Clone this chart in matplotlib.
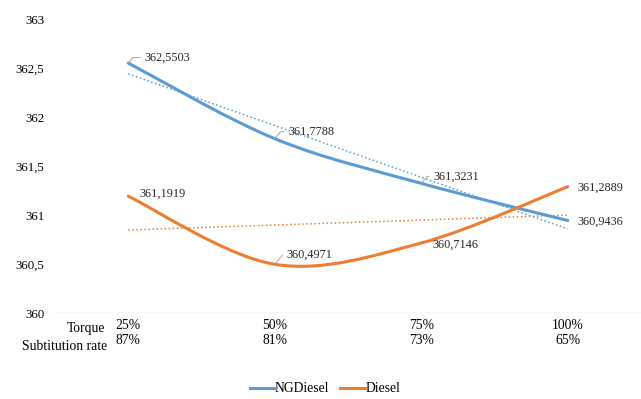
import numpy as np
import matplotlib
matplotlib.use('Agg')
import matplotlib.pyplot as plt
from matplotlib.path import Path
from matplotlib.patches import PathPatch
from matplotlib.lines import Line2D

plt.rcParams['font.family'] = 'serif'
plt.rcParams['font.serif'] = ['Liberation Serif', 'DejaVu Serif']

torque = ['25%', '50%', '75%', '100%']
subst_rate = ['87%', '81%', '73%', '65%']
ngdiesel = [362.5503, 361.7788, 361.3231, 360.9436]
diesel = [361.1919, 360.4971, 360.7146, 361.2889]

blue = '#5B9BD5'
orange = '#ED7D31'
fs = 8.8     # data labels
fs_ax = 9.8  # axis text


def excel_smooth(x, y):
    # bezier path like excel's "smoothed line"
    pts = np.column_stack([x, y])
    p = np.vstack([pts[0], pts, pts[-1]])
    verts = [tuple(pts[0])]
    codes = [Path.MOVETO]
    for i in range(1, len(p) - 2):
        c1 = p[i] + (p[i + 1] - p[i - 1]) / 6
        c2 = p[i + 1] - (p[i + 2] - p[i]) / 6
        verts += [tuple(c1), tuple(c2), tuple(p[i + 1])]
        codes += [Path.CURVE4] * 3
    return Path(verts, codes)


fig = plt.figure(figsize=(6.41, 3.99), dpi=100)
ax = fig.add_axes([55 / 641, 86 / 399, 586 / 641, 294 / 399])
x = np.arange(1, len(torque) + 1)

for vals, col in [(ngdiesel, blue), (diesel, orange)]:
    ax.add_patch(PathPatch(excel_smooth(x, vals), fill=False, edgecolor=col, lw=2.2,
                           capstyle='round', zorder=3))
    k, b = np.polyfit(x, vals, 1)
    ax.plot(x, k * x + b, ls=':', color=col, lw=1.1, zorder=2)

ax.set_xlim(0.5, 4.5)
ax.set_ylim(360, 363)
ax.set_yticks(np.arange(360, 363.01, 0.5))
ax.set_yticklabels([('%g' % v).replace('.', ',') for v in np.arange(360, 363.01, 0.5)], fontsize=9.3)
ax.set_xticks(x)
ax.set_xticklabels([t + '\n' + s for t, s in zip(torque, subst_rate)], fontsize=fs_ax, linespacing=1.2)
ax.tick_params(length=0, pad=7.8, axis='y')
ax.tick_params(length=0, pad=4, axis='x')
for s in ax.spines.values():
    s.set_visible(False)
ax.axhline(360, color='#D9D9D9', lw=1, zorder=1)

ax.annotate('Torque', xy=(1, 360), xytext=(-16.5, -11.5), textcoords='offset points',
            ha='right', va='center', fontsize=fs_ax)
ax.annotate('Subtitution rate', xy=(1, 360), xytext=(-15, -23.8), textcoords='offset points',
            ha='right', va='center', fontsize=fs_ax)

# data labels (offsets in points), True = leader line
offsets_ng = [(12, 4, True), (9.5, 5, True), (8.5, 5, True), (7, -1, False)]
offsets_d = [(8, 1.5, False), (8.5, 7, True), (8, -1, False), (7, -0.5, False)]
for vals, offs in [(ngdiesel, offsets_ng), (diesel, offsets_d)]:
    for xi, v, (dx, dy, lead) in zip(x, vals, offs):
        ap = None
        if lead:
            ap = dict(arrowstyle='-', color='#A6A6A6', lw=0.7, shrinkA=1, shrinkB=0,
                      relpos=(0, 0.5), connectionstyle='angle,angleA=0,angleB=50,rad=0')
        ax.annotate(('%.4f' % v).replace('.', ','), xy=(xi, v), xytext=(dx, dy),
                    textcoords='offset points', ha='left', va='center', fontsize=fs,
                    color='#262626', arrowprops=ap)

handles = [Line2D([], [], color=blue, lw=2.2), Line2D([], [], color=orange, lw=2.2)]
fig.legend(handles, ['NGDiesel', 'Diesel'], loc='center', bbox_to_anchor=(325 / 641, 1 - 389 / 399),
           ncol=2, frameon=False, fontsize=fs_ax, handlelength=1.8, handletextpad=0.05,
           columnspacing=0.8)

fig.savefig('out.png', dpi=100)
